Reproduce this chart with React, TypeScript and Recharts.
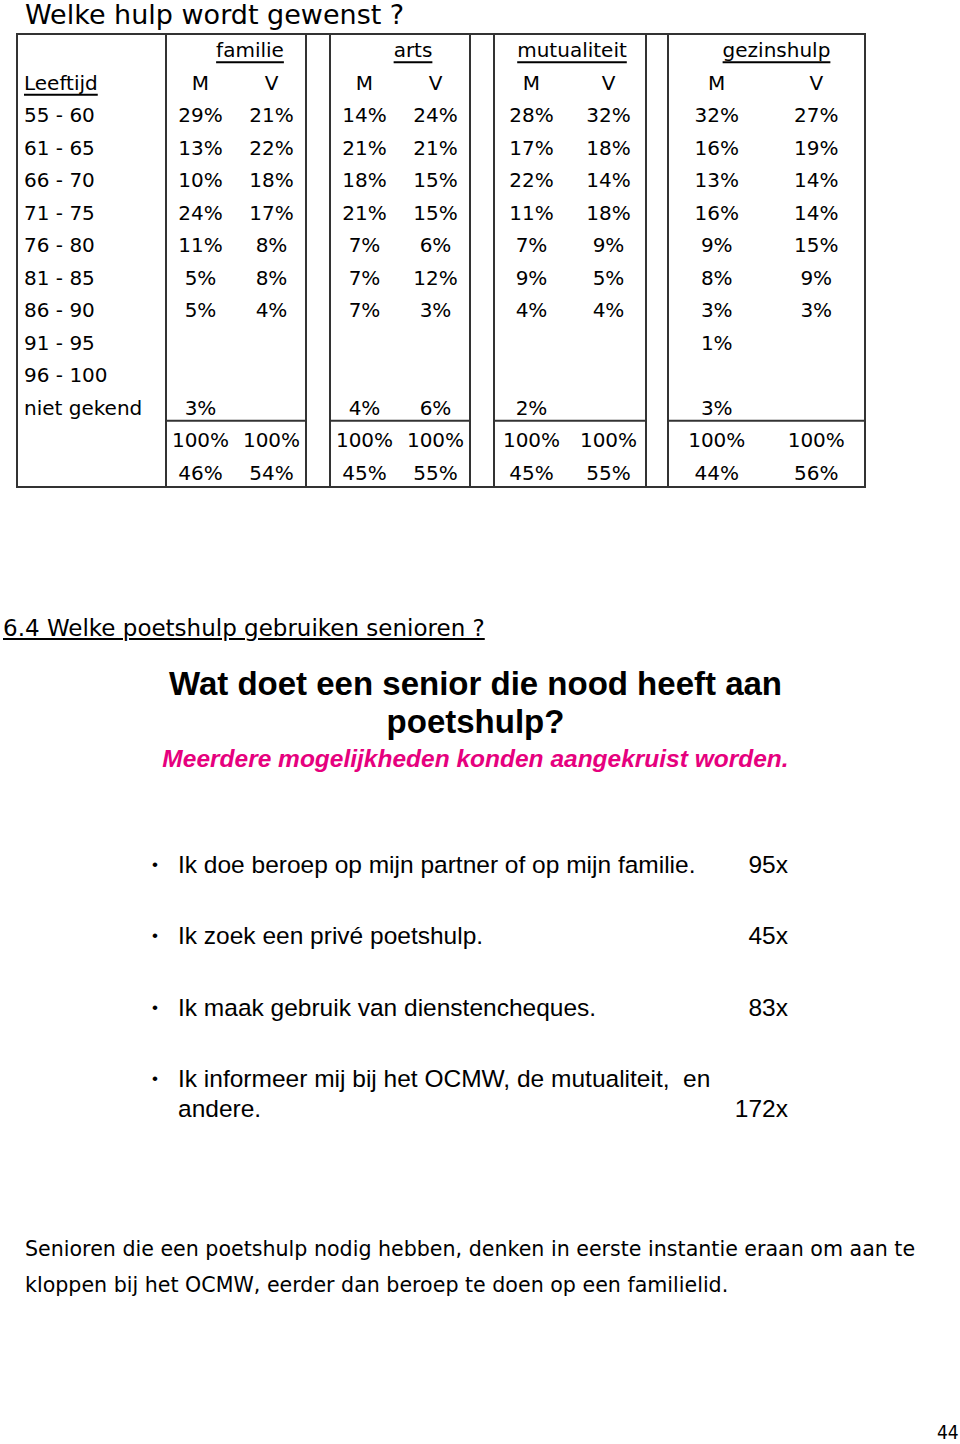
import React from 'react';
import { ScatterChart, Scatter, XAxis, YAxis, ReferenceLine } from 'recharts';

// Leeftijdsgroepen (rijen van de tabel)
const AGES = ['55 - 60', '61 - 65', '66 - 70', '71 - 75', '76 - 80', '81 - 85', '86 - 90', '91 - 95', '96 - 100', 'niet gekend'];

// percentages per hulpbron, M = mannen, V = vrouwen (null = leeg vak)
const FAMILIE_M = [29, 13, 10, 24, 11, 5, 5, null, null, 3];
const FAMILIE_V = [21, 22, 18, 17, 8, 8, 4, null, null, null];
const ARTS_M = [14, 21, 18, 21, 7, 7, 7, null, null, 4];
const ARTS_V = [24, 21, 15, 15, 6, 12, 3, null, null, 6];
const MUTUALITEIT_M = [28, 17, 22, 11, 7, 9, 4, null, null, 2];
const MUTUALITEIT_V = [32, 18, 14, 18, 9, 5, 4, null, null, null];
const GEZINSHULP_M = [32, 16, 13, 16, 9, 8, 3, 1, null, 3];
const GEZINSHULP_V = [27, 19, 14, 14, 15, 9, 3, null, null, null];

const GROUP_TITLES = ['familie', 'arts', 'mutualiteit', 'gezinshulp'];
const TOTAL_M = [100, 100, 100, 100];
const TOTAL_V = [100, 100, 100, 100];
const SHARE_M = [46, 45, 45, 44];
const SHARE_V = [54, 55, 55, 56];

const STATEMENTS = [
  'Ik doe beroep op mijn partner of op mijn familie.',
  'Ik zoek een privé poetshulp.',
  'Ik maak gebruik van dienstencheques.',
  'Ik informeer mij bij het OCMW, de mutualiteit,  en\nandere.',
];
const COUNTS = [95, 45, 83, 172];

// layout
const TABLE_LEFT = 16;
const TABLE_TOP = 33;
const TABLE_W = 850;
const TABLE_H = 455;
const ROW_DOMAIN: [number, number] = [-0.5, 13.5];
const BOXES = [
  { left: 165, width: 142, titleDx: 14 },
  { left: 329, width: 142, titleDx: 13 },
  { left: 493, width: 154, titleDx: 2 },
  { left: 667, width: 199, titleDx: 10 },
];
const LINE = '#333';
const TABLE_FONT = '"DejaVu Sans", sans-serif';
const ARIAL = '"Liberation Sans", Arial, sans-serif';
const NARROW = '"DejaVu Sans Condensed", "DejaVu Sans", sans-serif';

const GROUP_M = [FAMILIE_M, ARTS_M, MUTUALITEIT_M, GEZINSHULP_M];
const GROUP_V = [FAMILIE_V, ARTS_V, MUTUALITEIT_V, GEZINSHULP_V];

const pct = (v: number) => `${v}%`;

const groupPoints = (g: number) => {
  const pts: any[] = [{ x: 0.5, y: 0, label: GROUP_TITLES[g], kind: 'title' }];
  pts.push({ x: 0, y: 1, label: 'M', kind: 'cell' }, { x: 1, y: 1, label: 'V', kind: 'cell' });
  AGES.forEach((_, i) => {
    const m = GROUP_M[g][i];
    const v = GROUP_V[g][i];
    if (m != null) pts.push({ x: 0, y: i + 2, label: pct(m), kind: 'cell' });
    if (v != null) pts.push({ x: 1, y: i + 2, label: pct(v), kind: 'cell' });
  });
  pts.push({ x: 0, y: 12, label: pct(TOTAL_M[g]), kind: 'cell' }, { x: 1, y: 12, label: pct(TOTAL_V[g]), kind: 'cell' });
  pts.push({ x: 0, y: 13, label: pct(SHARE_M[g]), kind: 'cell' }, { x: 1, y: 13, label: pct(SHARE_V[g]), kind: 'cell' });
  return pts;
};

const agePoints = [
  { x: 0, y: 1, label: 'Leeftijd', kind: 'head' },
  ...AGES.map((a, i) => ({ x: 0, y: i + 2, label: a, kind: 'age' })),
];

const makeCell = (titleDx: number) => (props: any) => {
  const { cx, cy, payload } = props;
  const left = payload.kind === 'age' || payload.kind === 'head';
  return (
    <text
      x={cx + (payload.kind === 'title' ? titleDx : left ? 8 : 0)}
      y={cy}
      textAnchor={left ? 'start' : 'middle'}
      dominantBaseline="central"
      fontFamily={TABLE_FONT}
      fontSize={20}
      fill="#000"
      style={{ textDecoration: payload.kind === 'title' || payload.kind === 'head' ? 'underline' : 'none' }}
    >
      {payload.label}
    </text>
  );
};

const TableChart = ({ width, points, xDomain, titleDx, line }: any) => (
  <ScatterChart width={width} height={TABLE_H} margin={{ top: 0, right: 0, bottom: 0, left: 0 }}>
    <XAxis type="number" dataKey="x" domain={xDomain} hide />
    <YAxis type="number" dataKey="y" domain={ROW_DOMAIN} reversed hide />
    {line && <ReferenceLine y={11.4} stroke={LINE} strokeWidth={2} />}
    <Scatter data={points} shape={makeCell(titleDx)} isAnimationActive={false} />
  </ScatterChart>
);

const statementPoints = STATEMENTS.map((s, i) => ({ x: 0, y: i, lines: s.split('\n'), kind: 'text' }));
const countPoints = COUNTS.map((c, i) => ({ x: 1, y: i, label: `${c}x`, extra: STATEMENTS[i].split('\n').length - 1, kind: 'count' }));

const renderStatement = (props: any) => {
  const { cx, cy, payload } = props;
  return (
    <g>
      <text x={cx + 5} y={cy} dominantBaseline="central" textAnchor="middle" fontFamily={ARIAL} fontSize={17} fill="#000">•</text>
      {payload.lines.map((l: string, k: number) => (
        <text key={k} x={cx + 28} y={cy + k * 30} dominantBaseline="central" fontFamily={ARIAL} fontSize={24.5} fill="#000" style={{ whiteSpace: 'pre' }}>
          {l}
        </text>
      ))}
    </g>
  );
};

const renderCount = (props: any) => {
  const { cx, cy, payload } = props;
  return (
    <text x={cx} y={cy + payload.extra * 30} dominantBaseline="central" textAnchor="end" fontFamily={ARIAL} fontSize={24.5} fill="#000">
      {payload.label}
    </text>
  );
};

const abs = (left: number, top: number, extra: React.CSSProperties = {}): React.CSSProperties => ({
  position: 'absolute',
  left,
  top,
  margin: 0,
  whiteSpace: 'nowrap',
  ...extra,
});

export default function App() {
  return (
    <div style={{ position: 'absolute', left: 0, top: 0, width: 960, height: 1444, background: '#fff', overflow: 'hidden' }}>
      <div style={abs(25, 0, { fontFamily: TABLE_FONT, fontSize: 27, lineHeight: '30px' })}>Welke hulp wordt gewenst ?</div>

      {/* tabel */}
      <div style={abs(TABLE_LEFT, TABLE_TOP, { width: TABLE_W, height: TABLE_H, border: `2px solid ${LINE}`, boxSizing: 'border-box' })} />
      {BOXES.map((b, i) => (
        <div key={`box-${i}`} style={abs(b.left, TABLE_TOP, { width: b.width, height: TABLE_H, borderLeft: `2px solid ${LINE}`, borderRight: `2px solid ${LINE}`, boxSizing: 'border-box' })} />
      ))}
      <div style={abs(TABLE_LEFT, TABLE_TOP + 1)}>
        <TableChart width={BOXES[0].left - TABLE_LEFT} points={agePoints} xDomain={[0, 1]} titleDx={0} line={false} />
      </div>
      {BOXES.map((b, i) => (
        <div key={`chart-${i}`} style={abs(b.left, TABLE_TOP + 1)}>
          <TableChart width={b.width} points={groupPoints(i)} xDomain={[-0.5, 1.5]} titleDx={b.titleDx} line />
        </div>
      ))}

      <div style={abs(3, 613, { fontFamily: TABLE_FONT, fontSize: 23, lineHeight: '30px', textDecoration: 'underline' })}>
        6.4 Welke poetshulp gebruiken senioren ?
      </div>

      <div style={abs(0, 665, { width: 951, textAlign: 'center', fontFamily: ARIAL, fontWeight: 'bold', fontSize: 33, lineHeight: '38px' })}>
        Wat doet een senior die nood heeft aan
        <br />
        poetshulp?
      </div>
      <div style={abs(0, 745, { width: 951, textAlign: 'center', fontFamily: ARIAL, fontWeight: 'bold', fontStyle: 'italic', fontSize: 24.5, lineHeight: '28px', color: '#E6007E' })}>
        Meerdere mogelijkheden konden aangekruist worden.
      </div>

      {/* antwoorden */}
      <div style={abs(150, 829)}>
        <ScatterChart width={638} height={356} margin={{ top: 0, right: 0, bottom: 0, left: 0 }}>
          <XAxis type="number" dataKey="x" domain={[0, 1]} hide />
          <YAxis type="number" dataKey="y" domain={[-0.5, 4.5]} reversed hide />
          <Scatter data={statementPoints} shape={renderStatement} isAnimationActive={false} />
          <Scatter data={countPoints} shape={renderCount} isAnimationActive={false} />
        </ScatterChart>
      </div>

      <div style={abs(25, 1231, { fontFamily: TABLE_FONT, fontSize: 20.6, lineHeight: '36px' })}>
        Senioren die een poetshulp nodig hebben, denken in eerste instantie eraan om aan te
        <br />
        kloppen bij het OCMW, eerder dan beroep te doen op een familielid.
      </div>

      <div style={abs(937, 1418, { fontFamily: NARROW, fontSize: 19, lineHeight: '28px' })}>44</div>
    </div>
  );
}
